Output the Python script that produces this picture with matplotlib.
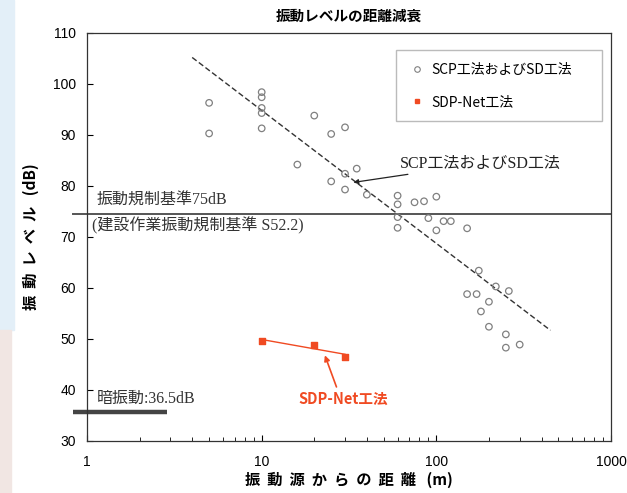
import matplotlib
matplotlib.use("Agg")
import matplotlib.pyplot as plt
from matplotlib.lines import Line2D
from matplotlib.patches import Rectangle
import numpy as np

# SCP工法およびSD工法 の測定点 (距離 m, 振動レベル dB)
scp_dist = [5, 5, 10, 10, 10, 10, 10, 16, 20, 25, 30, 25, 30, 30, 35, 40,
            60, 60, 60, 60, 75, 85, 100, 90, 100, 110, 121, 150, 175, 219,
            260, 150, 170, 200, 180, 200, 250, 250, 300]
scp_level = [96.3, 90.3, 98.4, 97.4, 95.3, 94.3, 91.3, 84.2, 93.8, 90.2,
             91.5, 80.9, 82.4, 79.3, 83.4, 78.3, 78.1, 76.4, 73.9, 71.8,
             76.8, 77.0, 77.9, 73.7, 71.3, 73.1, 73.1, 71.7, 63.4, 60.3,
             59.4, 58.8, 58.8, 57.3, 55.4, 52.4, 50.9, 48.3, 48.9]

# 回帰線 (破線)
fit_dist = [4.0, 450]
fit_level = [105.2, 51.7]

# SDP-Net工法
sdp_dist = [10, 20, 30]
sdp_level = [49.7, 48.8, 46.5]
sdp_fit_level = [49.9, 47.0]
sdp_fit_dist = [10, 30]

regulation = 74.5      # 振動規制基準 (線の描画位置)
background = 35.6      # 暗振動

ORANGE = "#F04A22"
JP = ["Noto Sans CJK JP", "DejaVu Sans"]
SERIF = ["Liberation Serif", "Noto Sans CJK JP"]
NUM = ["Liberation Sans", "DejaVu Sans"]

fig = plt.figure(figsize=(6.27, 4.93), dpi=100)
# 左端の背景 (元画像の淡い青帯)
fig.patches.append(Rectangle((0, 0.33), 0.022, 0.67, transform=fig.transFigure,
                             color="#e3eff8", zorder=0))
fig.patches.append(Rectangle((0, 0.0), 0.018, 0.33, transform=fig.transFigure,
                             color="#f1e6e3", zorder=0))

ax = fig.add_axes([0.1388, 0.1055, 0.8357, 0.8276])
ax.set_xscale("log")
ax.set_xlim(1, 1000)
ax.set_ylim(30, 110)
ax.set_yticks(np.arange(30, 111, 10))
ax.set_xticks([1, 10, 100, 1000])
ax.set_xticklabels(["1", "10", "100", "1000"])
ax.tick_params(which="both", direction="in", labelsize=10)
ax.tick_params(which="major", length=4, pad=10)
ax.tick_params(which="minor", length=3)
ax.tick_params(axis="y", pad=8)
for lab in ax.get_xticklabels() + ax.get_yticklabels():
    lab.set_fontfamily(NUM)
for s in ax.spines.values():
    s.set_color("#333333")
    s.set_linewidth(0.9)

ax.scatter(scp_dist, scp_level, s=22, facecolors="none", edgecolors="#808080",
           linewidths=0.9, zorder=3)
ax.plot(fit_dist, fit_level, color="#333333", lw=1.0, dashes=(4, 2), zorder=2)

ax.plot(sdp_fit_dist, sdp_fit_level, color=ORANGE, lw=1.0, zorder=3)
ax.scatter(sdp_dist, sdp_level, marker="s", s=18, color=ORANGE, zorder=4)

# 規制基準線と暗振動
ax.plot([0.83, 1000], [regulation, regulation], color="#555555", lw=1.4,
        clip_on=False, zorder=2)
ax.plot([0.83, 2.87], [background, background], color="#444444", lw=3.2,
        clip_on=False, zorder=2, solid_capstyle="butt")

ax.text(1.13, 77.2, "振動規制基準75dB", fontsize=11.5, family=SERIF,
        color="#333333", va="center")
ax.text(1.07, 72.3, "(建設作業振動規制基準 S52.2)", fontsize=11.5, family=SERIF,
        color="#333333", va="center")
ax.text(1.13, 38.3, "暗振動:36.5dB", fontsize=11.5, family=SERIF,
        color="#333333", va="center")

ax.annotate("SCP工法およびSD工法", xy=(33.5, 80.7), xytext=(62, 84.4),
            fontsize=11.5, family=SERIF, color="#222222", va="center",
            arrowprops=dict(arrowstyle="-|>", color="#222222", lw=0.9,
                            mutation_scale=7, shrinkA=0, shrinkB=0))
ax.annotate("", xy=(23.0, 46.8), xytext=(26.8, 40.6),
            arrowprops=dict(arrowstyle="-|>", color=ORANGE, lw=1.2,
                            mutation_scale=8, shrinkA=0, shrinkB=0))
ax.text(29.3, 38.2, "SDP-Net工法", fontsize=10.5, family=JP, color=ORANGE,
        fontweight="bold", ha="center", va="center")

handles = [
    Line2D([], [], ls="none", marker="o", mfc="none", mec="#808080", ms=4, mew=0.8),
    Line2D([], [], ls="none", marker="s", color=ORANGE, ms=3.5),
]
leg = ax.legend(handles, ["SCP工法およびSD工法", "SDP-Net工法"],
                loc="upper left", bbox_to_anchor=(0.59, 0.787, 0.393, 0.171),
                mode="expand", frameon=True, fancybox=False, borderpad=0.9,
                labelspacing=1.3, handletextpad=0.4, handlelength=1.2,
                borderaxespad=0, prop={"family": JP, "size": 10})
leg.get_frame().set_edgecolor("#aaaaaa")
leg.get_frame().set_linewidth(1.0)

ax.set_title("振動レベルの距離減衰", fontsize=10.5, family=JP, fontweight="bold",
             pad=9)
ax.set_xlabel("振  動  源  か  ら  の  距  離   (m)", fontsize=11, family=JP,
              fontweight="bold", labelpad=2)
ax.set_ylabel("振  動  レ  ベ  ル   (dB)", fontsize=11, family=JP,
              fontweight="bold", labelpad=10)

fig.savefig("out.png", dpi=100)
